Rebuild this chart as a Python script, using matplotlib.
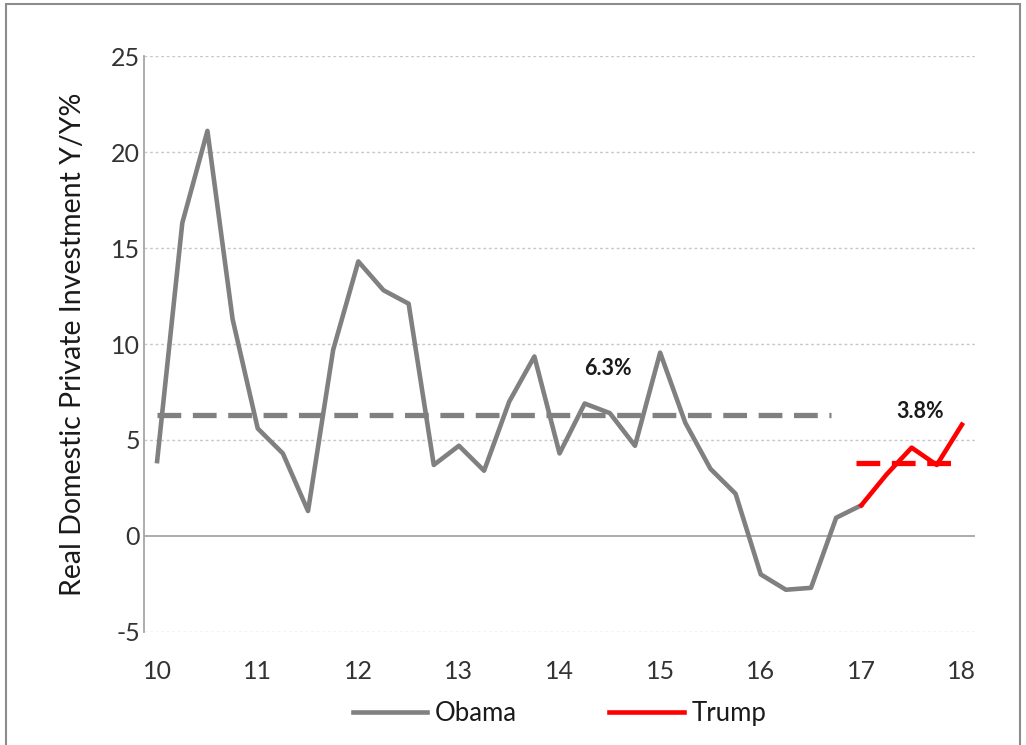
import numpy as np
import matplotlib.pyplot as plt
from matplotlib.patches import Rectangle

plt.rcParams['font.family'] = ['Lato', 'DejaVu Sans']
plt.rcParams['axes.unicode_minus'] = False

# quarterly Y/Y % (x in years since 2000)
obama_x = [10.0, 10.25, 10.5, 10.75, 11.0, 11.25, 11.5, 11.75, 12.0, 12.25, 12.5,
           12.75, 13.0, 13.25, 13.5, 13.75, 14.0, 14.25, 14.5, 14.75, 15.0, 15.25,
           15.5, 15.75, 16.0, 16.25, 16.5, 16.75, 17.0]
obama_y = [3.9, 16.3, 21.1, 11.3, 5.6, 4.3, 1.3, 9.7, 14.3, 12.8, 12.1,
           3.7, 4.7, 3.4, 7.0, 9.35, 4.3, 6.9, 6.4, 4.7, 9.55, 5.9,
           3.5, 2.2, -2.0, -2.8, -2.7, 0.95, 1.6]
trump_x = [17.0, 17.25, 17.5, 17.75, 18.0]
trump_y = [1.6, 3.2, 4.6, 3.7, 5.8]

obama_avg = 6.3
trump_avg = 3.8
obama_avg_span = [10.0, 16.7]
trump_avg_span = [16.95, 18.0]

fig = plt.figure(figsize=(10.26, 7.45), dpi=100)
ax = fig.add_axes([0.1404, 0.1517, 0.8099, 0.7731])

fig.patches.append(Rectangle((0.006, -0.01), 0.988, 1.005, transform=fig.transFigure,
                             fill=False, edgecolor='#8c8c8c', linewidth=1.5))

ax.plot(obama_avg_span, [obama_avg, obama_avg], color='#808080', lw=3.8,
        dashes=(4.5, 2.2), zorder=3)
ax.plot(trump_avg_span, [trump_avg, trump_avg], color='#ff0000', lw=3.8,
        dashes=(4.5, 2.2), zorder=3)
ax.plot(obama_x, obama_y, color='#808080', lw=3.3, label='Obama', zorder=4)
ax.plot(trump_x, trump_y, color='#ff0000', lw=3.3, label='Trump', zorder=5)

ax.text(14.48, 8.7, '6.3%', fontsize=15.5, fontweight='bold', ha='center', va='center', color='#1a1a1a')
ax.text(17.58, 6.5, '3.8%', fontsize=15.5, fontweight='bold', ha='center', va='center', color='#1a1a1a')

ax.set_xlim(9.87, 18.13)
ax.set_ylim(-5, 25)
ax.set_xticks(range(10, 19))
ax.set_yticks(range(-5, 26, 5))
ax.tick_params(axis='both', length=0, labelsize=18, colors='#333333')
ax.tick_params(axis='x', pad=20)
ax.tick_params(axis='y', pad=3)

for y in range(-5, 26, 5):
    if y == 0:
        ax.axhline(0, color='#a6a6a6', lw=1.3, zorder=1)
    else:
        ax.axhline(y, color='#c8c8c8', lw=1, ls=(0, (2, 2)), zorder=1)

for s in ['top', 'right', 'bottom']:
    ax.spines[s].set_visible(False)
ax.spines['left'].set_color('#a6a6a6')
ax.spines['left'].set_linewidth(1.3)

ax.set_ylabel('Real Domestic Private Investment Y/Y%', fontsize=20.5, color='#1a1a1a', labelpad=18)

leg = ax.legend(loc='upper center', bbox_to_anchor=(0.5, -0.08), ncol=2, frameon=False,
                fontsize=18.5, handlelength=2.9, columnspacing=3.6, handletextpad=0.3)
for t in leg.get_texts():
    t.set_color('#1a1a1a')

fig.savefig('out.png', dpi=100)
